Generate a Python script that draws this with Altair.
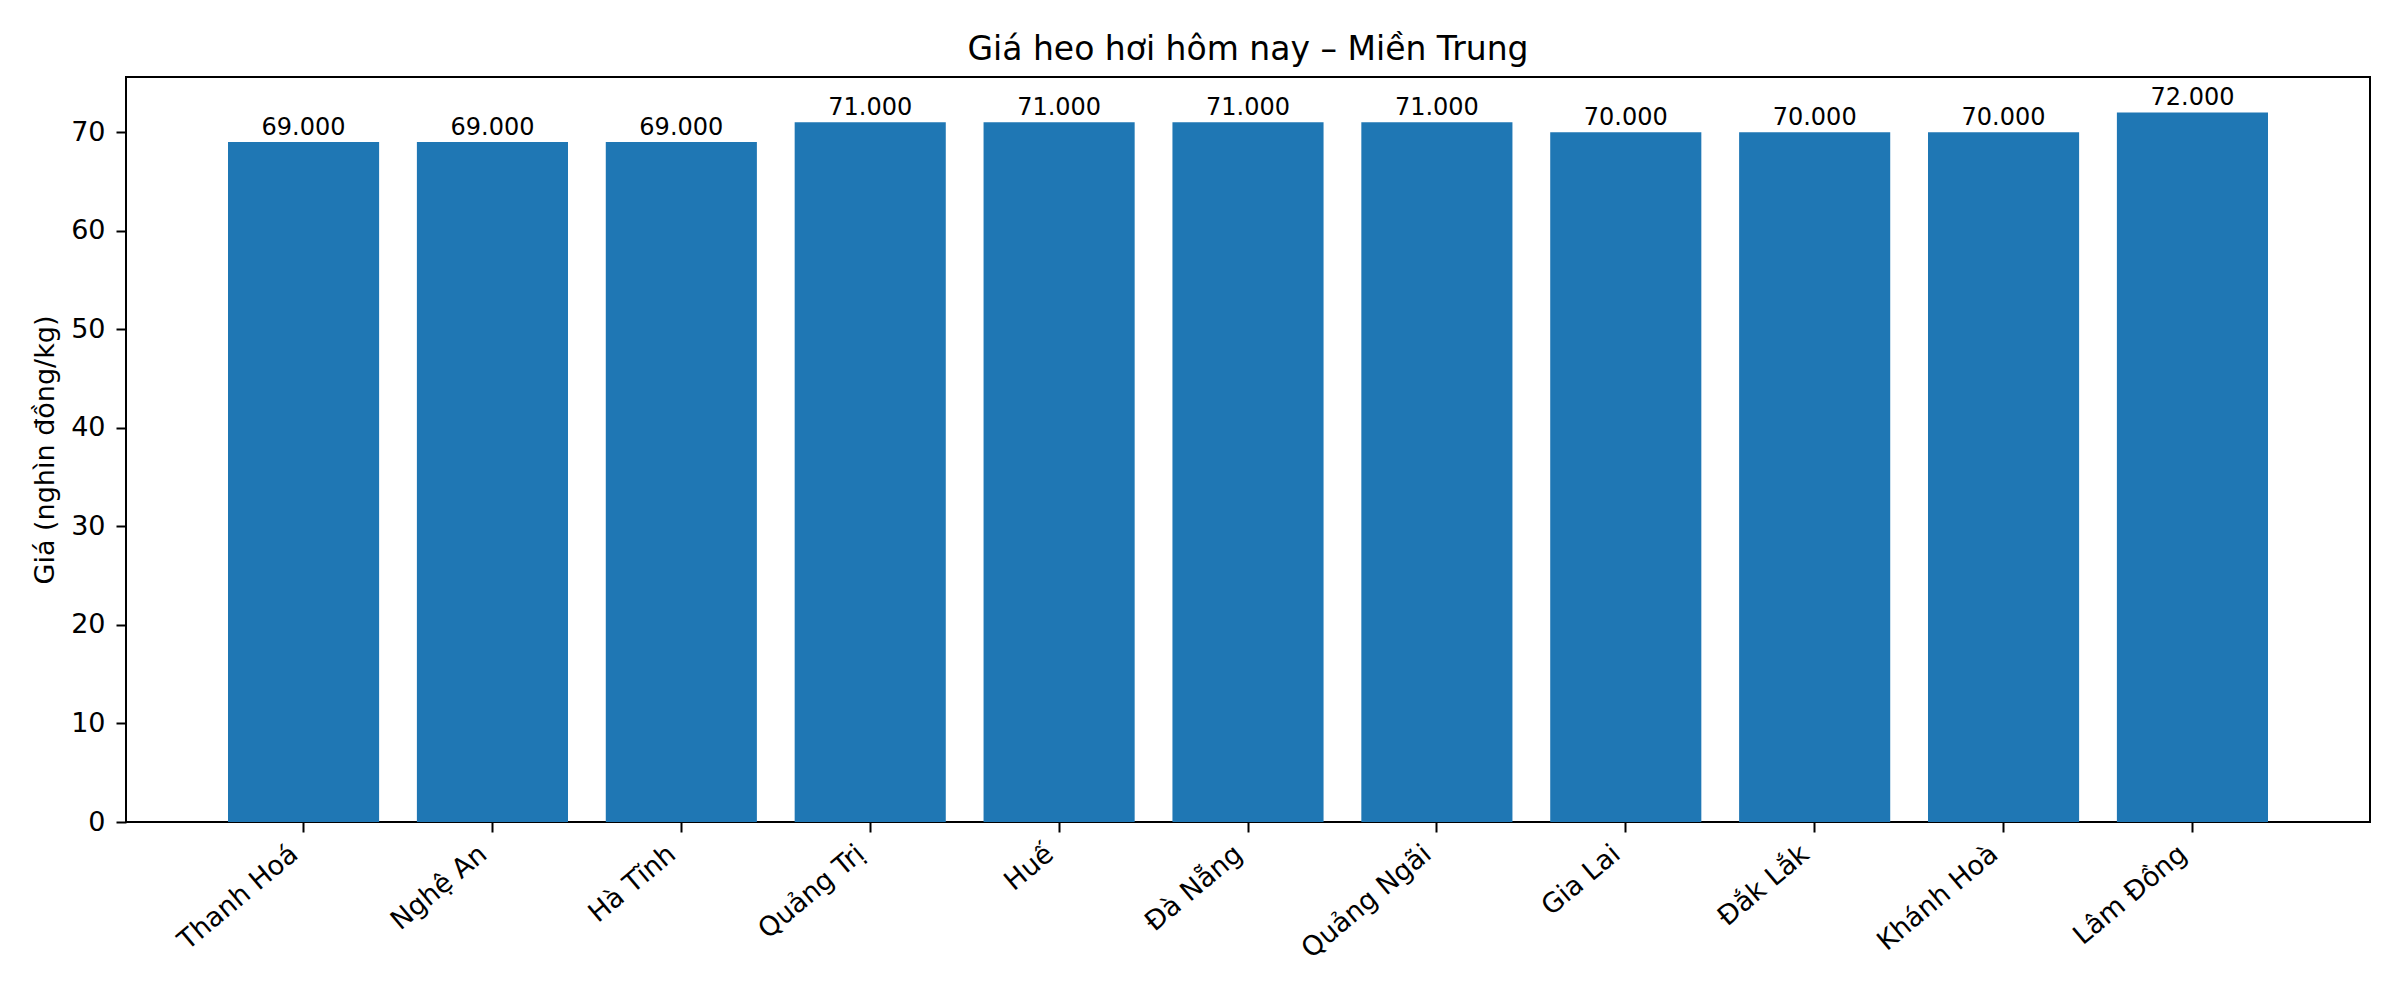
import altair as alt
import pandas as pd

regions = ["Thanh Hoá", "Nghệ An", "Hà Tĩnh", "Quảng Trị", "Huế", "Đà Nẵng",
           "Quảng Ngãi", "Gia Lai", "Đắk Lắk", "Khánh Hoà", "Lâm Đồng"]
prices = [69, 69, 69, 71, 71, 71, 71, 70, 70, 70, 72]
y_ticks = [0, 10, 20, 30, 40, 50, 60, 70]

df = pd.DataFrame({"region": regions, "price": prices})

FONT = "DejaVu Sans"
W, H = 2244, 745

x_enc = alt.X(
    "region:N", sort=regions,
    scale=alt.Scale(paddingInner=0.2, paddingOuter=0.54),
    axis=alt.Axis(title=None, labelAngle=-40, labelAlign="right", labelBaseline="bottom",
                  labelFontSize=27, labelFont=FONT, labelColor="black",
                  tickSize=10, tickWidth=2, tickColor="black", labelPadding=29,
                  domain=False, grid=False, labelOverlap=False),
)
y_enc = alt.Y(
    "price:Q",
    scale=alt.Scale(domain=[0, 75.6], nice=False, zero=True),
    axis=alt.Axis(title="Giá (nghìn đồng/kg)", values=y_ticks, format="d",
                  labelFontSize=27, labelFont=FONT, labelColor="black",
                  tickSize=10, tickWidth=2, tickColor="black", labelPadding=11,
                  titleFontSize=27, titleFont=FONT, titleFontWeight="normal",
                  titleColor="black", titleX=-73, titleY=H / 2, titleAngle=270,
                  titleAlign="center", titleBaseline="alphabetic",
                  domain=False, grid=False),
)

bars = alt.Chart(df).mark_bar(color="#1f77b4").encode(x=x_enc, y=y_enc)

labels = alt.Chart(df).transform_calculate(
    lbl="replace(format(datum.price * 1000, ','), ',', '.')"
).mark_text(
    font=FONT, fontSize=24, color="black", baseline="alphabetic", dy=-7
).encode(
    x=alt.X("region:N", sort=regions),
    y=alt.Y("price:Q"),
    text="lbl:N",
)

chart = alt.layer(bars, labels).properties(
    width=W, height=H,
    title=alt.TitleParams("Giá heo hơi hôm nay – Miền Trung", fontSize=33, font=FONT,
                          fontWeight="normal", color="black", anchor="middle",
                          baseline="alphabetic", offset=-16),
    autosize=alt.AutoSizeParams(type="none"),
    padding={"left": 118, "top": 69, "right": 22, "bottom": 170},
).configure(
    background="white",
    view=alt.ViewConfig(stroke="black", strokeWidth=2),
)

chart.save("out.html", embed_options={"renderer": "svg", "actions": False})
